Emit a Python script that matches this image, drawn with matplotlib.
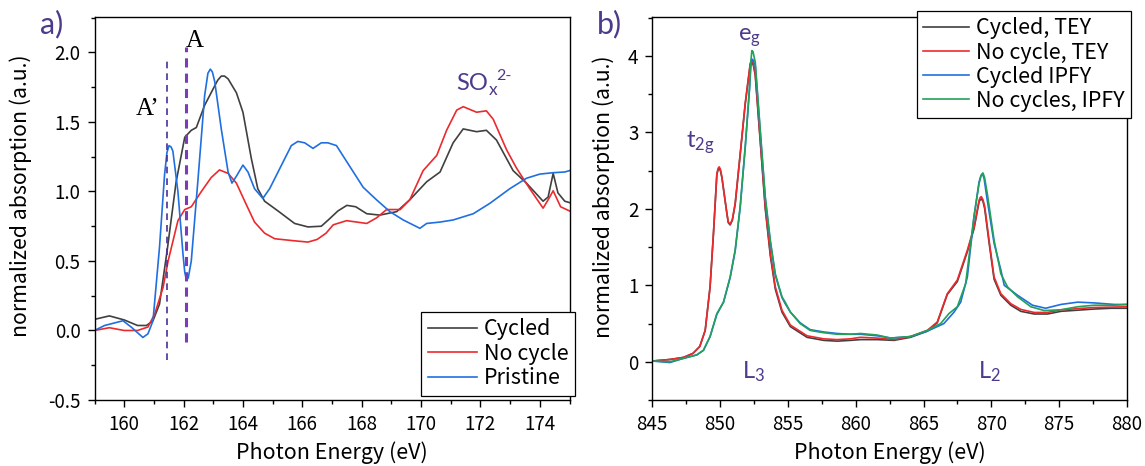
import matplotlib
matplotlib.use("Agg")
import matplotlib.pyplot as plt
from matplotlib.ticker import MultipleLocator, FormatStrFormatter

plt.rcParams['font.family'] = ['Noto Sans CJK JP', 'DejaVu Sans']
plt.rcParams['mathtext.default'] = 'regular'

# ---------------- Panel a) S L-edge ----------------
a_cyc_E = [159.0, 159.5, 160.0, 160.45, 160.75, 160.97, 161.19, 161.45, 161.75, 162.04, 162.26, 162.43,
           162.71, 163.05, 163.15, 163.27, 163.38, 163.5, 163.78, 164.0, 164.28, 164.5, 164.73, 165.18,
           165.74, 166.19, 166.64, 166.9, 167.2, 167.5, 167.8, 168.17, 168.61, 169.18, 169.62, 170.19,
           170.64, 171.08, 171.42, 171.87, 172.2, 172.54, 173.1, 173.55, 174.11, 174.28, 174.45, 174.61,
           174.84, 175.0]
a_cyc_V = [0.08, 0.105, 0.076, 0.036, 0.036, 0.07, 0.19, 0.58, 1.07, 1.39, 1.44, 1.46,
           1.62, 1.76, 1.80, 1.83, 1.83, 1.81, 1.71, 1.57, 1.24, 1.02, 0.93, 0.86,
           0.77, 0.745, 0.75, 0.80, 0.86, 0.90, 0.89, 0.84, 0.83, 0.855, 0.94, 1.07,
           1.14, 1.35, 1.45, 1.43, 1.44, 1.37, 1.15, 1.06, 0.93, 0.96, 1.13, 0.99,
           0.93, 0.92]

a_noc_E = [159.0, 159.5, 160.0, 160.45, 160.8, 161.03, 161.31, 161.48, 161.81, 162.04, 162.26, 162.6,
           162.93, 163.21, 163.5, 163.78, 164.06, 164.39, 164.73, 165.07, 165.74, 166.19, 166.5, 166.8,
           167.04, 167.49, 167.83, 168.17, 168.5, 168.84, 169.3, 169.62, 170.07, 170.53, 170.86, 171.2,
           171.42, 171.87, 172.2, 172.43, 172.88, 173.21, 173.66, 174.11, 174.28, 174.45, 174.7, 175.0]
a_noc_V = [0.0, 0.02, 0.0, 0.0, 0.025, 0.12, 0.31, 0.5, 0.79, 0.87, 0.89, 1.0,
           1.10, 1.155, 1.13, 1.06, 0.93, 0.78, 0.70, 0.66, 0.645, 0.636, 0.655, 0.70,
           0.76, 0.79, 0.78, 0.77, 0.81, 0.87, 0.87, 0.94, 1.15, 1.26, 1.44, 1.585,
           1.61, 1.57, 1.58, 1.52, 1.30, 1.17, 1.02, 0.88, 0.94, 1.005, 0.89, 0.86]

a_pri_E = [159.0, 159.34, 159.96, 160.24, 160.63, 160.8, 160.97, 161.19, 161.36, 161.44, 161.51, 161.58,
           161.64, 161.81, 161.98, 162.04, 162.1, 162.16, 162.26, 162.48, 162.71, 162.82, 162.9, 162.97,
           163.05, 163.27, 163.5, 163.63, 163.78, 164.0, 164.17, 164.39, 164.67, 164.9, 165.3, 165.63,
           165.85, 166.08, 166.36, 166.64, 166.86, 167.15, 167.6, 168.05, 168.5, 168.95, 169.4, 169.96,
           170.19, 170.64, 171.08, 171.76, 172.32, 172.99, 173.55, 174.0, 174.45, 174.84, 175.0]
a_pri_V = [0.0, 0.036, 0.07, 0.024, -0.05, -0.024, 0.07, 0.60, 1.12, 1.28, 1.33, 1.32,
           1.29, 1.0, 0.55, 0.42, 0.36, 0.38, 0.5, 1.07, 1.69, 1.85, 1.88, 1.86,
           1.79, 1.45, 1.14, 1.06, 1.11, 1.19, 1.14, 1.02, 0.95, 1.02, 1.19, 1.33,
           1.36, 1.35, 1.31, 1.35, 1.35, 1.33, 1.18, 1.03, 0.94, 0.855, 0.795, 0.735,
           0.77, 0.78, 0.795, 0.84, 0.915, 1.02, 1.095, 1.125, 1.135, 1.14, 1.15]

a_labels = ['Cycled', 'No cycle', 'Pristine']
A_prime_E, A_prime_y = 161.45, (-0.215, 1.94)
A_E, A_y = 162.08, (-0.086, 2.04)

# ---------------- Panel b) Ni L-edge ----------------
b_tey_E = [845, 846.3, 847.3, 848.0, 848.5, 848.9, 849.26, 849.51, 849.76, 849.85, 849.93, 850.02,
           850.13, 850.5, 850.6, 850.74, 850.9, 851.11, 851.48, 851.85, 852.22, 852.28, 852.34, 852.45,
           852.59, 852.96, 853.33, 853.7, 854.07, 854.56, 855.18, 856.41, 857.64, 858.63, 859.6,
           860.35, 861.58, 862.81, 864.04, 865.27, 866.01, 866.75, 867.49, 868.23, 868.72, 869.09,
           869.18, 869.26, 869.38, 869.51, 869.83, 870.2, 870.7, 871.43, 872.17, 873.16, 874.14,
           875.13, 876.36, 877.59, 878.82, 880.0]
b_cyc_tey = [0.01, 0.03, 0.057, 0.11, 0.2, 0.41, 0.98, 1.68, 2.45, 2.51, 2.53, 2.50,
             2.41, 1.94, 1.82, 1.79, 1.85, 2.06, 2.71, 3.37, 3.89, 3.91, 3.92, 3.88,
             3.75, 2.88, 2.0, 1.39, 0.95, 0.65, 0.46, 0.32, 0.28, 0.27, 0.28,
             0.29, 0.29, 0.28, 0.32, 0.40, 0.51, 0.88, 1.05, 1.44, 1.74, 2.09,
             2.12, 2.13, 2.10, 2.0, 1.56, 1.08, 0.87, 0.74, 0.66, 0.625, 0.625,
             0.66, 0.675, 0.69, 0.70, 0.70]
b_noc_tey = [0.01, 0.03, 0.057, 0.11, 0.2, 0.41, 0.98, 1.68, 2.46, 2.53, 2.55, 2.52,
             2.42, 1.94, 1.83, 1.80, 1.86, 2.07, 2.72, 3.38, 3.9, 3.93, 3.94, 3.90,
             3.77, 2.9, 2.03, 1.42, 0.98, 0.675, 0.48, 0.34, 0.30, 0.29, 0.30,
             0.32, 0.31, 0.29, 0.33, 0.41, 0.52, 0.89, 1.07, 1.46, 1.76, 2.11,
             2.15, 2.16, 2.12, 2.03, 1.59, 1.11, 0.89, 0.76, 0.685, 0.645, 0.645,
             0.68, 0.695, 0.71, 0.715, 0.72]

b_cyc_ipfy_E = [845, 846.3, 847.3, 848.28, 848.77, 849.26, 849.76, 850.25, 850.74, 851.11, 851.48, 851.85,
                852.17, 852.26, 852.34, 852.42, 852.59, 852.96, 853.33, 853.7, 854.07, 854.56, 854.8,
                855.18, 855.9, 856.64, 857.64, 858.63, 859.6, 860.35, 861.58, 862.57, 864.04, 865.27,
                866.5, 867.25, 867.74, 868.23, 868.72, 869.09, 869.22, 869.34, 869.46, 869.7, 870.2,
                870.7, 870.95, 871.93, 873.03, 874.0, 875.13, 876.36, 877.59, 879.07, 880.0]
b_cyc_ipfy = [0.01, -0.01, 0.045, 0.09, 0.15, 0.33, 0.62, 0.78, 1.10, 1.45, 2.02, 2.80,
              3.57, 3.85, 3.96, 3.95, 3.88, 3.0, 2.13, 1.57, 1.13, 0.84, 0.76,
              0.65, 0.51, 0.42, 0.39, 0.37, 0.36, 0.36, 0.34, 0.31, 0.33, 0.40,
              0.50, 0.65, 0.78, 1.11, 1.90, 2.35, 2.43, 2.46, 2.40, 2.11, 1.55,
              1.2, 1.0, 0.87, 0.74, 0.70, 0.75, 0.78, 0.77, 0.75, 0.75]

b_noc_ipfy_E = [845, 846.3, 847.3, 848.28, 848.77, 849.26, 849.76, 850.25, 850.74, 851.11, 851.48, 851.85,
                852.17, 852.26, 852.34, 852.42, 852.59, 852.96, 853.33, 853.7, 854.07, 854.56, 854.8,
                855.18, 855.9, 856.64, 857.64, 858.63, 859.6, 860.35, 861.58, 862.57, 864.04, 865.27,
                866.26, 866.87, 867.49, 868.1, 868.72, 869.09, 869.25, 869.38, 869.5, 869.7, 870.2,
                870.7, 871.19, 871.93, 872.91, 873.9, 875.13, 876.36, 877.59, 879.07, 880.0]
b_noc_ipfy = [0.01, 0.0, 0.045, 0.09, 0.15, 0.33, 0.63, 0.78, 1.11, 1.46, 2.03, 2.81,
              3.59, 3.92, 4.07, 4.06, 3.92, 3.03, 2.16, 1.59, 1.15, 0.85, 0.78,
              0.65, 0.50, 0.41, 0.38, 0.36, 0.36, 0.37, 0.35, 0.31, 0.33, 0.41,
              0.50, 0.63, 0.72, 1.02, 1.90, 2.33, 2.44, 2.47, 2.41, 2.2, 1.59,
              1.15, 0.98, 0.85, 0.72, 0.67, 0.68, 0.72, 0.74, 0.74, 0.75]

b_labels = ['Cycled, TEY', 'No cycle, TEY', 'Cycled IPFY', 'No cycles, IPFY']

C_GRAY = '#404040'
C_RED = '#ec2a2e'
C_BLUE = '#1f6fe0'
C_GREEN = '#23a05a'
C_PURPLE = '#4e3a8c'

W, H = 1145, 466
fig = plt.figure(figsize=(W / 100, H / 100), dpi=100)

def px_axes(x0, x1, y0, y1):
    return fig.add_axes([x0 / W, 1 - y1 / H, (x1 - x0) / W, (y1 - y0) / H])

axA = px_axes(94.5, 569.5, 17, 400)
axB = px_axes(652.3, 1127, 17, 400)

for ax in (axA, axB):
    for s in ax.spines.values():
        s.set_linewidth(1.0)
        s.set_color('black')
    ax.tick_params(which='both', direction='out', top=False, right=False, labelsize=13.5, width=1.0)
    ax.tick_params(which='major', length=5, pad=5)
    ax.tick_params(which='minor', length=3)
    ax.set_xlabel('Photon Energy (eV)', fontsize=15.5)
    ax.set_ylabel('normalized absorption (a.u.)', fontsize=15.3)

axA.xaxis.set_label_coords(0.5, -(453 - 400) / 383, transform=axA.transAxes)
axB.xaxis.set_label_coords(0.5, -(453 - 400) / 383, transform=axB.transAxes)
axA.yaxis.set_label_coords(-(94.5 - 21) / 475, (400 - 196) / 383)
axB.yaxis.set_label_coords(-(652.3 - 604) / 474.7, (400 - 197) / 383)
for ax in (axA, axB):
    ax.xaxis.label.set_va('center')
    ax.yaxis.label.set_va('center')

lw = 1.2
axA.plot(a_cyc_E, a_cyc_V, color=C_GRAY, lw=lw, label=a_labels[0])
axA.plot(a_noc_E, a_noc_V, color=C_RED, lw=lw, label=a_labels[1])
axA.plot(a_pri_E, a_pri_V, color=C_BLUE, lw=lw, label=a_labels[2])
axA.plot([A_prime_E, A_prime_E], A_prime_y, color='#4a2f9a', lw=1.2, ls=(0, (4, 3)))
axA.plot([A_E, A_E], A_y, color='#7a3db8', lw=2.2, ls=(0, (3, 2)))
axA.set_xlim(159, 175)
axA.set_ylim(-0.5, 2.255)
axA.xaxis.set_major_locator(MultipleLocator(2))
axA.xaxis.set_minor_locator(MultipleLocator(1))
axA.yaxis.set_major_locator(MultipleLocator(0.5))
axA.yaxis.set_minor_locator(MultipleLocator(0.25))
axA.yaxis.set_major_formatter(FormatStrFormatter('%.1f'))
axA.text(162.37, 2.04, 'A', family='Liberation Serif', fontsize=18, ha='center', va='baseline')
axA.text(160.8, 1.55, 'A\u2019', family='Liberation Serif', fontsize=18, ha='center', va='baseline')

legA = axA.legend(loc='lower right', bbox_to_anchor=(575 / W, 1 - 395.7 / H), bbox_transform=fig.transFigure,
                  fontsize=15.5, frameon=True, fancybox=False, edgecolor='black', framealpha=1,
                  handlelength=2.3, labelspacing=0.12, borderpad=0.3, handletextpad=0.3, borderaxespad=0)
legA.get_frame().set_linewidth(0.9)

axB.plot(b_tey_E, b_cyc_tey, color=C_GRAY, lw=lw, label=b_labels[0])
axB.plot(b_tey_E, b_noc_tey, color=C_RED, lw=lw, label=b_labels[1])
axB.plot(b_cyc_ipfy_E, b_cyc_ipfy, color=C_BLUE, lw=lw, label=b_labels[2])
axB.plot(b_noc_ipfy_E, b_noc_ipfy, color=C_GREEN, lw=lw, label=b_labels[3])
axB.set_xlim(845, 880)
axB.set_ylim(-0.5, 4.51)
axB.xaxis.set_major_locator(MultipleLocator(5))
axB.xaxis.set_minor_locator(MultipleLocator(2.5))
axB.yaxis.set_major_locator(MultipleLocator(1))
axB.yaxis.set_minor_locator(MultipleLocator(0.5))
axB.text(847.5, 2.8, r't$_{2g}$', family='Lato', fontsize=17, color=C_PURPLE, ha='left', va='baseline')
axB.text(851.3, 4.2, r'e$_{g}$', family='Lato', fontsize=17, color=C_PURPLE, ha='left', va='baseline')
axB.text(851.6, -0.22, r'L$_{3}$', family='Lato', fontsize=17, color=C_PURPLE, ha='left', va='baseline')
axB.text(869.0, -0.22, r'L$_{2}$', family='Lato', fontsize=17, color=C_PURPLE, ha='left', va='baseline')

legB = axB.legend(loc='upper right', bbox_to_anchor=(1131 / W, 1 - 11 / H), bbox_transform=fig.transFigure,
                  fontsize=15.5, frameon=True, fancybox=False, edgecolor='black', framealpha=1,
                  handlelength=2.15, labelspacing=0.1, borderpad=0.3, handletextpad=0.3, borderaxespad=0)
legB.get_frame().set_linewidth(0.9)

fig.text(40 / W, 1 - 33 / H, 'a)', family='Lato', fontsize=22, color=C_PURPLE, ha='left', va='baseline')
fig.text(597 / W, 1 - 33 / H, 'b)', family='Lato', fontsize=22, color=C_PURPLE, ha='left', va='baseline')

# SOx2- label built from pieces so the superscript keeps a plain hyphen
SO_E, SO_V = 171.2, 1.73
so = axA.text(SO_E, SO_V, 'SO', family='Lato', fontsize=17, color=C_PURPLE, ha='left', va='baseline')
fig.canvas.draw()
bb = so.get_window_extent(fig.canvas.get_renderer())
base_y = axA.transData.transform((SO_E, SO_V))[1]
fig.text((bb.x1 + 0.5) / W, (base_y - 5) / H, 'x', family='Lato', fontsize=12.5, color=C_PURPLE,
         ha='left', va='baseline')
fig.text((bb.x1 + 8) / W, (base_y + 10) / H, '2-', family='Lato', fontsize=11.5, color=C_PURPLE,
         ha='left', va='baseline')

fig.savefig('out.png', dpi=100)
